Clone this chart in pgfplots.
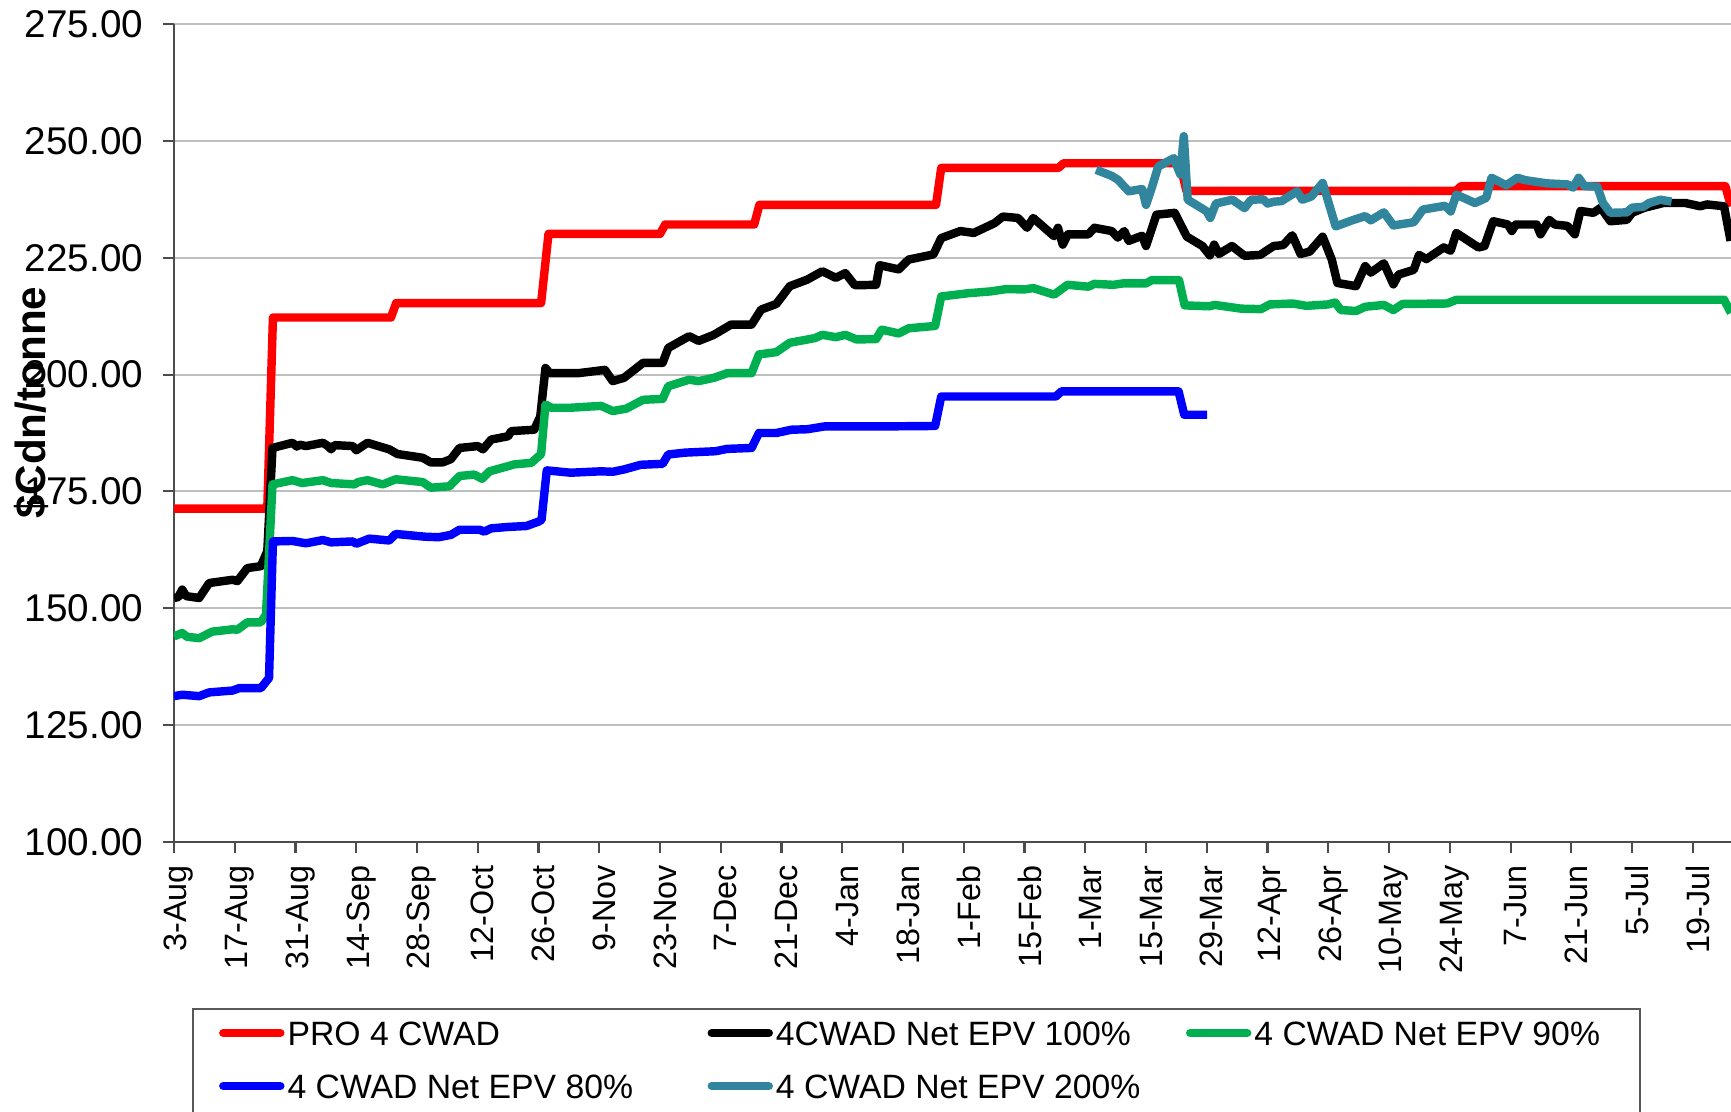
\documentclass[border=0pt]{standalone}
\usepackage{fontspec}
\setmainfont{Liberation Sans}
\usepackage{pgfplots}
\pgfplotsset{compat=1.18}
\definecolor{xlred}{HTML}{FF0000}
\definecolor{xlgreen}{HTML}{00B050}
\definecolor{xlblue}{HTML}{0000FF}
\definecolor{xlteal}{HTML}{31859C}

\begin{document}
\begin{tikzpicture}
\begin{axis}[
	name=ax,
	at={(0,0)}, anchor=south west,
	width=155.7mm, height=81.8mm, scale only axis,
	xmin=0, xmax=358.8, ymin=100, ymax=275,
	axis x line*=bottom, axis y line*=left,
	axis line style={black!70, line width=0.8pt, -},
	xtick={0,14,...,350},
	xticklabels={3-Aug,17-Aug,31-Aug,14-Sep,28-Sep,12-Oct,26-Oct,9-Nov,23-Nov,7-Dec,21-Dec,4-Jan,18-Jan,1-Feb,15-Feb,1-Mar,15-Mar,29-Mar,12-Apr,26-Apr,10-May,24-May,7-Jun,21-Jun,5-Jul,19-Jul},
	ytick={100,125,...,275},
	ymajorgrids=true,
	grid style={black!25, line width=0.6pt},
	tick align=outside,
	major tick length=1.1mm,
	tick style={black!70, line width=0.6pt},
	/pgf/number format/assume math mode=true,
	yticklabel={\pgfmathprintnumber[fixed,fixed zerofill,precision=2]{\tick}},
	yticklabel style={font=\fontsize{11}{13}\selectfont, xshift=-0.75mm},
	xticklabel style={font=\fontsize{9.2}{11}\selectfont, rotate=90, anchor=east, yshift=-0.5mm},
	ylabel={\$Cdn/tonne},
	ylabel style={font=\fontsize{12}{14}\selectfont\bfseries, at={(axis description cs:-0.0913,0.537)}, anchor=center},
	every axis plot/.append style={line width=2.4pt, line join=round},
	legend columns=3,
	legend style={at={(axis description cs:0.0116,-0.2029)}, anchor=north west,
		draw=black!65, line width=0.6pt, inner xsep=2.6mm, inner ysep=0mm,
		font=\fontsize{9.6}{11}\selectfont,
		nodes={inner xsep=0pt, inner ysep=0.8mm, text height=2.8mm, text depth=0.9mm, anchor=base west},
		/tikz/every odd column/.style={column sep=0.3mm}},
	legend image code/.code={\draw[#1, line cap=round] (0mm,1.2mm) -- (5.7mm,1.2mm);},
]

% PRO 4 CWAD
\addplot[color=xlred] coordinates {
	(0,171.3) (21.5,171.3) (22.8,212.2) (50,212.2) (51.2,215.3) (84.6,215.3)
	(86.3,230.1) (112,230.1) (113.2,232.1) (133.7,232.1) (134.9,236.3)
	(175.6,236.3) (176.8,244.2) (203.8,244.2) (205,245.2) (231.8,245.2)
	(233.3,239.3) (295.4,239.3) (296.6,240.3) (357.5,240.3) (358.8,236)};
\addlegendentry{\makebox[42mm][l]{PRO 4 CWAD}}

% 4CWAD Net EPV 100%
\addplot[color=black] coordinates {
	(0,152.2) (1.0,152.4) (1.9,154.0) (2.8,152.6) (5.8,152.2) (8.1,155.4)
	(13.5,156.1) (14.6,155.8) (16.9,158.6) (20.0,159.0) (21.5,162.2)
	(22.7,184.3) (27.3,185.4) (28.3,184.6) (29.0,185.0) (30.4,184.7)
	(34.3,185.4) (35.5,184.7) (36.2,184.0) (37.0,184.9) (41.2,184.7)
	(42.0,183.8) (44.6,185.4) (49.6,184.0) (51.5,183.0) (57.3,182.2)
	(59.2,181.2) (61.9,181.2) (63.8,181.9) (65.8,184.3) (70.0,184.7)
	(71.2,184.0) (73.1,186.1) (77.0,186.8) (77.7,187.9) (83.0,188.2)
	(84.4,191.0) (85.6,201.4) (86.6,200.3) (93.2,200.3) (99.3,201.0)
	(101.1,198.6) (103.7,199.3) (108.1,202.5) (112.6,202.5) (113.9,205.7)
	(118.7,208.2) (120.9,207.2) (124.4,208.5) (128.4,210.7) (133.1,210.7)
	(135.3,213.9) (138.8,215.1) (141.9,218.9) (145.9,220.3) (149.4,222.1)
	(152.5,220.7) (154.7,221.7) (156.9,219.1) (161.8,219.2) (162.6,223.4)
	(167.0,222.5) (169.3,224.6) (175.0,225.7) (176.8,229.2) (181.2,230.7)
	(184.3,230.3) (189.1,232.4) (191.0,233.8) (194.5,233.5) (196.6,231.4)
	(198.0,233.5) (202.8,229.6) (203.7,231.4) (204.8,227.8) (206.0,230.0)
	(210.7,230.0) (212.1,231.4) (216.1,230.7) (217.5,229.3) (219.0,230.7)
	(220.0,228.6) (223.1,229.7) (224.0,227.5) (226.4,234.2) (230.6,234.6)
	(233.4,229.5) (237.0,227.5) (238.7,225.5) (239.7,227.8) (240.8,225.8)
	(243.8,227.5) (246.7,225.4) (250.3,225.6) (253.4,227.5) (255.6,227.7)
	(257.7,229.8) (259.6,225.8) (261.7,226.3) (264.7,229.5) (266.8,224.6)
	(268.1,219.6) (272.4,218.9) (274.5,223.2) (275.8,221.8) (278.8,223.8)
	(281.0,219.3) (282.2,221.4) (285.7,222.4) (286.9,225.6) (288.6,224.7)
	(292.6,227.2) (294.2,226.5) (295.5,230.3) (300.6,227.2) (302.0,227.5)
	(304.0,232.8) (307.4,232.1) (308.3,230.7) (309.2,232.1) (314.0,232.1)
	(314.9,230.0) (316.9,233.1) (318.2,232.1) (321.1,231.8) (322.8,230.0)
	(324.1,235.0) (327.1,234.6) (328.8,235.7) (331.0,232.8) (334.8,233.1)
	(336.0,234.6) (338.9,235.7) (343.2,236.7) (348.3,236.7) (351.7,236.0)
	(353.3,236.4) (357.2,236.0) (358.7,228.6)};
\addlegendentry{\makebox[41mm][l]{4CWAD Net EPV 100\%}}

% 4 CWAD Net EPV 90%
\addplot[color=xlgreen] coordinates {
	(0,144.0) (1.9,144.7) (3.0,143.9) (5.8,143.6) (8.8,145.0) (13.5,145.5)
	(14.6,145.4) (16.9,147.0) (20.0,147.0) (21.2,148.6) (22.7,176.5)
	(27.3,177.4) (29.5,176.8) (34.3,177.4) (36.2,176.8) (41.6,176.5)
	(42.4,177.0) (44.6,177.4) (48.1,176.5) (51.1,177.6) (57.3,177.0)
	(59.2,175.8) (63.5,176.1) (65.8,178.3) (69.2,178.6) (71.0,177.7)
	(72.7,179.3) (77.0,180.4) (78.5,180.8) (82.3,181.1) (83.9,182.4)
	(84.6,183.0) (85.6,193.6) (87.0,192.9) (91.4,192.9) (98.4,193.3)
	(101.1,192.2) (104.2,192.7) (108.1,194.6) (112.6,194.8) (113.9,197.5)
	(118.7,198.9) (120.9,198.6) (124.4,199.3) (127.5,200.3) (133.1,200.3)
	(134.8,204.3) (138.8,204.8) (141.9,206.8) (147.7,207.8) (149.4,208.5)
	(152.5,208.0) (154.7,208.5) (157.3,207.5) (161.8,207.6) (163.1,209.6)
	(167.0,208.8) (169.3,209.9) (175.4,210.4) (176.8,216.7) (183.0,217.4)
	(188.3,217.8) (191.9,218.3) (195.9,218.2) (198.0,218.5) (202.8,217.1)
	(205.9,219.2) (210.7,218.8) (212.1,219.4) (216.5,219.2) (218.7,219.5)
	(224.0,219.5) (225.3,220.2) (231.6,220.2) (232.9,214.8) (238.6,214.6)
	(239.8,214.9) (245.9,214.1) (250.5,214.0) (252.5,215.0) (257.8,215.2)
	(260.9,214.7) (265.9,215.0) (267.6,215.4) (268.9,213.8) (272.4,213.6)
	(274.5,214.5) (278.8,214.9) (281.0,213.8) (283.1,215.1) (293.4,215.2)
	(295.5,216.0) (357.2,216.0) (358.8,213.2)};
\addlegendentry{\makebox[36mm][l]{4 CWAD Net EPV 90\%}}

% 4 CWAD Net EPV 80%
\addplot[color=xlblue] coordinates {
	(0,131.2) (1.9,131.5) (5.8,131.2) (8.1,132.0) (13.5,132.4) (15.0,132.9)
	(20.0,132.9) (21.9,135.1) (22.8,164.3) (27.3,164.4) (30.4,163.9)
	(34.3,164.6) (36.2,164.1) (41.2,164.3) (42.0,163.8) (45.0,164.9)
	(49.6,164.5) (51.1,165.9) (58.0,165.3) (61.0,165.2) (63.8,165.7)
	(65.8,166.8) (70.4,166.8) (71.5,166.4) (73.1,167.1) (77.0,167.4)
	(81.2,167.6) (83.9,168.5) (84.7,168.9) (85.9,179.5) (91.4,179.0)
	(98.4,179.3) (101.1,179.2) (103.7,179.7) (107.6,180.7) (112.6,180.9)
	(113.9,182.9) (117.8,183.3) (124.8,183.6) (127.5,184.1) (133.1,184.3)
	(134.8,187.5) (138.8,187.5) (142.3,188.2) (145.9,188.3) (149.9,188.9)
	(162.6,188.9) (175.4,189.0) (176.8,195.3) (203.2,195.3) (204.5,196.4)
	(231.5,196.4) (232.8,191.4) (238.1,191.4)};
\addlegendentry{\makebox[42mm][l]{4 CWAD Net EPV 80\%}}

% 4 CWAD Net EPV 200%
\addplot[color=xlteal] coordinates {
	(212.5,243.8) (216.1,242.5) (217.5,241.7) (220.0,239.2) (223.1,239.7)
	(224.0,236.3) (225.3,239.9) (226.8,244.5) (230.4,246.3) (231.9,242.8)
	(232.7,251.0) (233.6,237.4) (236.8,235.6) (238.0,234.9) (238.8,233.5)
	(240.1,236.6) (243.9,237.4) (246.7,235.6) (248.2,237.4) (251.0,237.5)
	(252.0,236.6) (253.6,237.0) (255.2,237.1) (258.8,239.2) (260.0,237.4)
	(262.1,238.1) (264.7,241.0) (267.7,231.7) (271.5,233.0) (274.5,233.9)
	(275.8,233.0) (278.8,234.7) (281.0,231.9) (285.7,232.6) (287.8,235.3)
	(292.9,236.1) (294.2,234.9) (295.5,238.5) (299.8,236.7) (302.4,237.8)
	(303.6,242.1) (307.0,240.5) (309.6,242.1) (311.3,241.6) (316.4,240.9)
	(321.1,240.7) (322.4,240.0) (323.7,242.1) (325.0,240.3) (328.0,240.2)
	(329.3,236.7) (331.0,234.6) (334.8,234.7) (336.0,235.7) (338.6,235.9)
	(339.9,236.7) (342.5,237.4) (345.1,237.0)};
\addlegendentry{\makebox[41mm][l]{4 CWAD Net EPV 200\%}}

\end{axis}
\pgfresetboundingbox
\path[use as bounding box] (-17.4mm,-27mm) rectangle (155.7mm,84.2mm);
\end{tikzpicture}
\end{document}
